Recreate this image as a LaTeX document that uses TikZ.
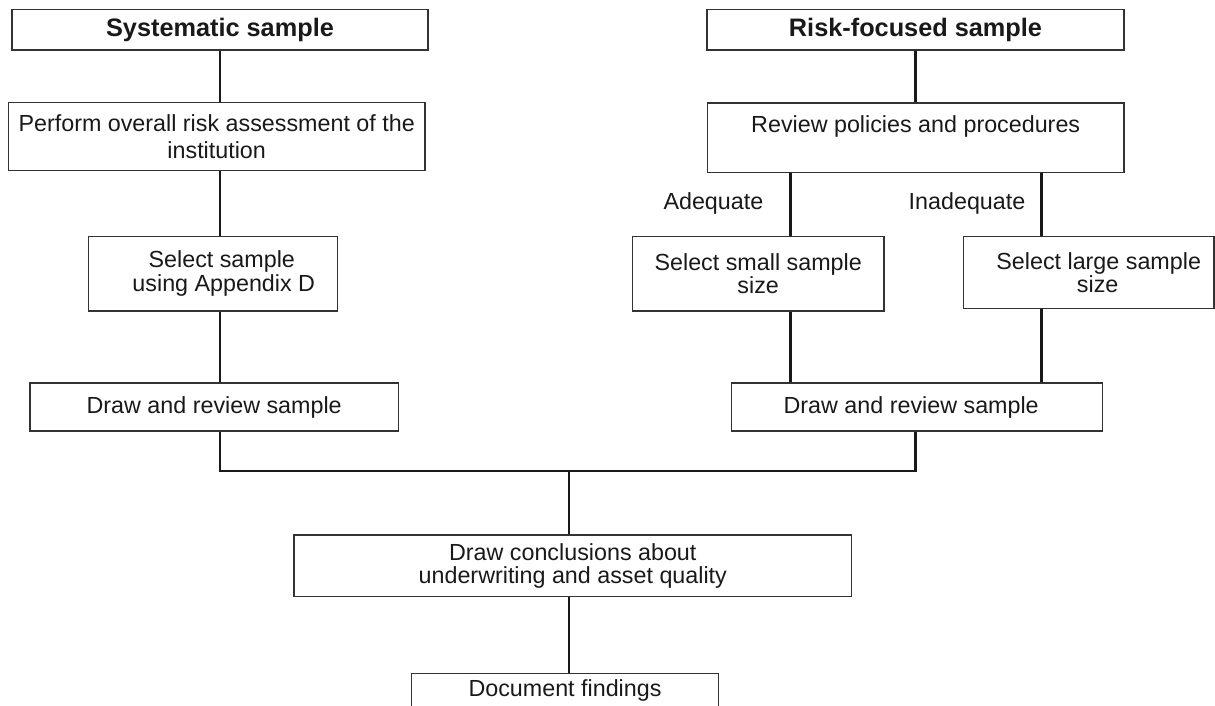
\documentclass[tikz,border=0pt]{standalone}
\usepackage{fontspec}
\setmainfont{Liberation Sans}
\usepackage{tikz}
\usepackage{xcolor}

\begin{document}
\begin{tikzpicture}[x=0.5pt,y=-0.5pt,
  box/.style={draw=black!80, line width=0.6pt, inner sep=2pt, align=center, text=black!90,
    font=\fontsize{11.65}{11.65}\selectfont},
  headbox/.style={box, font=\fontsize{12.65}{14}\selectfont\bfseries},
  link/.style={draw=black!90, line width=1.35pt},
  lbl/.style={anchor=base, inner sep=0pt, text=black!90, font=\fontsize{11.65}{11.65}\selectfont}]
\useasboundingbox (0,0) rectangle (1215,706);
% systematic side
\node[headbox, minimum width=208pt, minimum height=20.35pt] (sys) at (220,29.7) {Systematic sample};
\node[box, minimum width=208.35pt, minimum height=34pt, font=\fontsize{11.65}{13.85}\selectfont] (perform) at (216.7,136.7)
  {Perform overall risk assessment of the\\institution};
\node[box, minimum width=124.5pt, minimum height=37.15pt, font=\fontsize{11.65}{12.15}\selectfont] (selapp) at (212.8,273.8)
  {\hspace*{9pt}Select sample\\\hspace*{11pt}using Appendix D};
\node[box, minimum width=184.15pt, minimum height=24pt] (drawL) at (214.2,407) {Draw and review sample};
% risk-focused side
\node[headbox, minimum width=208.5pt, minimum height=20.35pt] (risk) at (915.5,29.7) {Risk-focused sample};
\node[box, minimum width=208.35pt, minimum height=34.65pt, font=\fontsize{11.65}{13.85}\selectfont] (review) at (915.7,137.7)
  {Review policies and procedures\\\mbox{}};
\node[box, minimum width=125.85pt, minimum height=37.15pt] (small) at (758.2,273.8) {Select small sample\\size};
\node[box, minimum width=125.35pt, minimum height=35.8pt] (large) at (1088.7,272.5)
  {\hspace*{10pt}Select large sample\\\hspace*{9pt}size};
\node[box, minimum width=185.5pt, minimum height=24pt] (drawR) at (917.2,407) {Draw and review sample\hspace*{6pt}};
\node[lbl] (lblAdq) at (713.4,209) {Adequate};
\node[lbl] (lblInadq) at (967,209) {Inadequate};
% joint part
\node[box, minimum width=278.85pt, minimum height=30.85pt] (concl) at (572.8,565.8)
  {Draw conclusions about\\underwriting and asset quality};
\node[box, minimum width=153.3pt, minimum height=17.5pt] (doc) at (565,690.8) {Document findings};

\coordinate (adq) at (790.3,0);
\coordinate (inadq) at (1041.3,0);
\coordinate (join) at (569,471);

\draw[link] (sys.south) -- (sys.south |- perform.north);
\draw[link] (sys.south |- perform.south) -- (sys.south |- selapp.north);
\draw[link] (sys.south |- selapp.south) -- (sys.south |- drawL.north);
\draw[link] (risk.south) -- (risk.south |- review.north);
\draw[link] (review.south -| adq) -- (small.north -| adq);
\draw[link] (review.south -| inadq) -- (large.north -| inadq);
\draw[link] (small.south -| adq) -- (drawR.north -| adq);
\draw[link] (large.south -| inadq) -- (drawR.north -| inadq);
\draw[link] (sys.south |- drawL.south) |- (join) -| (risk.south |- drawR.south);
\draw[link] (join) -- (join |- concl.north);
\draw[link] (concl.south -| join) -- (doc.north -| join);
\end{tikzpicture}
\end{document}
